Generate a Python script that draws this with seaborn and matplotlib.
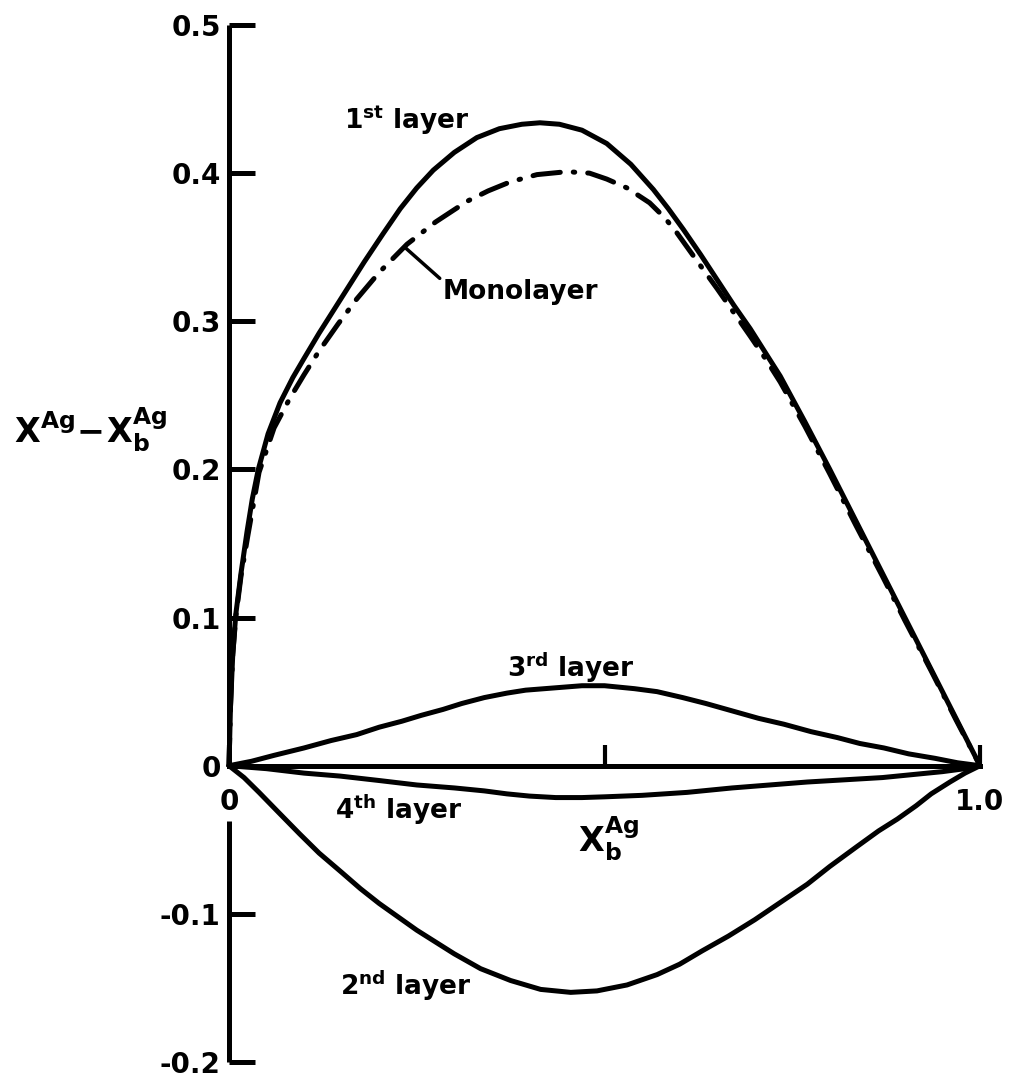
import matplotlib
matplotlib.use("Agg")
import matplotlib.pyplot as plt
import seaborn as sns

# curve readings: X_b^Ag (x) and X^Ag - X_b^Ag (y)
x_first = [0, 0.002, 0.005, 0.009, 0.016, 0.024, 0.031, 0.039, 0.052, 0.068, 0.085, 0.1,
           0.12, 0.14, 0.16, 0.18, 0.205, 0.228, 0.25, 0.272, 0.3, 0.33, 0.36, 0.39,
           0.414, 0.44, 0.47, 0.503, 0.535, 0.565, 0.585, 0.605, 0.628, 0.65, 0.672,
           0.694, 0.714, 0.734, 0.767, 0.8, 0.835, 0.87, 0.9, 0.935, 0.968, 1.0]
y_first = [0, 0.04, 0.075, 0.102, 0.13, 0.158, 0.18, 0.2, 0.224, 0.245, 0.262, 0.275,
           0.292, 0.308, 0.324, 0.34, 0.359, 0.376, 0.39, 0.402, 0.414, 0.424, 0.43, 0.433,
           0.434, 0.433, 0.429, 0.42, 0.406, 0.389, 0.376, 0.362, 0.345, 0.328, 0.311,
           0.295, 0.279, 0.263, 0.232, 0.2, 0.165, 0.13, 0.1, 0.065, 0.032, 0]

x_mono = [0, 0.002, 0.005, 0.009, 0.016, 0.025, 0.04, 0.06, 0.081, 0.1, 0.12, 0.145, 0.17,
          0.2, 0.237, 0.275, 0.317, 0.345, 0.374, 0.41, 0.45, 0.48, 0.503, 0.53, 0.56,
          0.58, 0.596, 0.62, 0.65, 0.672, 0.694, 0.714, 0.734, 0.767, 0.8, 0.835, 0.87,
          0.9, 0.935, 0.968, 1.0]
y_mono = [0, 0.04, 0.075, 0.1, 0.128, 0.155, 0.198, 0.228, 0.248, 0.264, 0.28, 0.298, 0.315,
          0.333, 0.352, 0.367, 0.381, 0.388, 0.394, 0.399, 0.401, 0.4, 0.396, 0.39, 0.38,
          0.37, 0.36, 0.343, 0.322, 0.306, 0.29, 0.275, 0.259, 0.229, 0.197, 0.162, 0.128,
          0.098, 0.064, 0.031, 0]

x_third = [0, 0.03, 0.06, 0.1, 0.136, 0.17, 0.2, 0.23, 0.256, 0.285, 0.31, 0.34, 0.37,
           0.395, 0.42, 0.445, 0.47, 0.5, 0.54, 0.57, 0.604, 0.635, 0.67, 0.705, 0.739,
           0.775, 0.81, 0.84, 0.872, 0.905, 0.94, 0.97, 1.0]
y_third = [0, 0.003, 0.007, 0.012, 0.017, 0.021, 0.026, 0.03, 0.034, 0.038, 0.042, 0.046,
           0.049, 0.051, 0.052, 0.053, 0.054, 0.054, 0.052, 0.05, 0.046, 0.042, 0.037,
           0.032, 0.028, 0.023, 0.019, 0.015, 0.012, 0.008, 0.005, 0.002, 0]

x_fourth = [0, 0.05, 0.1, 0.148, 0.2, 0.25, 0.3, 0.34, 0.37, 0.4, 0.435, 0.47, 0.5, 0.55,
            0.61, 0.67, 0.72, 0.77, 0.82, 0.87, 0.91, 0.95, 0.98, 1.0]
y_fourth = [0, -0.002, -0.005, -0.007, -0.01, -0.013, -0.015, -0.017, -0.019, -0.0205,
            -0.0215, -0.0215, -0.021, -0.02, -0.018, -0.015, -0.013, -0.011, -0.0095,
            -0.008, -0.006, -0.004, -0.002, 0]

x_second = [0, 0.02, 0.04, 0.065, 0.094, 0.12, 0.15, 0.175, 0.2, 0.225, 0.25, 0.275, 0.3,
            0.335, 0.375, 0.415, 0.455, 0.49, 0.53, 0.57, 0.6, 0.63, 0.665, 0.7, 0.735,
            0.77, 0.8, 0.835, 0.865, 0.89, 0.915, 0.935, 0.96, 0.98, 1.0]
y_second = [0, -0.008, -0.018, -0.031, -0.046, -0.059, -0.072, -0.083, -0.093, -0.102,
            -0.111, -0.119, -0.127, -0.137, -0.145, -0.151, -0.153, -0.152, -0.148,
            -0.141, -0.134, -0.125, -0.115, -0.104, -0.092, -0.08, -0.068, -0.055,
            -0.044, -0.036, -0.027, -0.019, -0.011, -0.005, 0]

y_ticks = [0.5, 0.4, 0.3, 0.2, 0.1, 0, -0.1, -0.2]
y_ticklabels = ["0.5", "0.4", "0.3", "0.2", "0.1", "0", "-0.1", "-0.2"]

sns.set_style("white")
plt.rcParams["font.family"] = ["DejaVu Sans"]
plt.rcParams["font.weight"] = "bold"
plt.rcParams["mathtext.default"] = "bf"
for key in ["text.color", "axes.labelcolor", "xtick.color", "ytick.color", "axes.edgecolor"]:
    plt.rcParams[key] = "black"

fig = plt.figure(figsize=(10.18, 10.83), dpi=100)
ax = fig.add_axes([229 / 1018, 21 / 1083, 751 / 1018, 1037 / 1083])

lw = 3.6
curves = [(x_first, y_first), (x_third, y_third), (x_fourth, y_fourth), (x_second, y_second)]
for xs, ys in curves:
    sns.lineplot(x=xs, y=ys, ax=ax, color="black", lw=lw, estimator=None, sort=False,
                 clip_on=False, solid_capstyle="round", solid_joinstyle="round")

sns.lineplot(x=x_mono, y=y_mono, ax=ax, color="black", lw=lw, estimator=None, sort=False,
             clip_on=False, ls=(0, (5.5, 2.6, 0.3, 2.6)), dash_capstyle="round")

ax.set_xlim(0, 1.0)
ax.set_ylim(-0.2, 0.5)

# axes: x axis through zero, y axis broken around the "0" label
for s in ["top", "right", "left"]:
    ax.spines[s].set_visible(False)
ax.spines["bottom"].set_position(("data", 0))
ax.spines["bottom"].set_bounds(0, 1.0)
ax.spines["bottom"].set_linewidth(lw)
ax.plot([0, 0], [0.5, 0], color="black", lw=lw, clip_on=False, solid_capstyle="butt")
ax.plot([0, 0], [-0.037, -0.2], color="black", lw=lw, clip_on=False, solid_capstyle="butt")

ax.set_yticks(y_ticks)
ax.set_yticklabels(y_ticklabels)
ax.tick_params(axis="y", left=True, direction="in", length=19, width=lw, labelsize=20, pad=6)
ax.set_xticks([0, 0.5, 1.0])
ax.set_xticklabels(["0", "", "1.0"])
ax.tick_params(axis="x", bottom=True, direction="in", length=15, width=3, labelsize=20, pad=16)

ax.set_ylabel(r"$X^{Ag}\!-\!X_b^{Ag}$", rotation=0, fontsize=24, ha="center", va="center")
ax.yaxis.set_label_coords(-0.185, 0.61)
ax.set_xlabel(r"$X_b^{Ag}$", fontsize=24, ha="center", va="center")
ax.xaxis.set_label_coords(0.505, 0.215)

ax.text(0.153, 0.43, r"$1^{st}$ layer", fontsize=19, ha="left", va="baseline")
ax.text(0.37, 0.06, r"$3^{rd}$ layer", fontsize=19, ha="left", va="baseline")
ax.text(0.141, -0.036, r"$4^{th}$ layer", fontsize=19, ha="left", va="baseline")
ax.text(0.148, -0.155, r"$2^{nd}$ layer", fontsize=19, ha="left", va="baseline")
ax.annotate("Monolayer", xy=(0.234, 0.35), xytext=(0.285, 0.32), fontsize=19,
            ha="left", va="center",
            arrowprops=dict(arrowstyle="-", lw=2.5, color="black", shrinkA=0, shrinkB=0,
                            relpos=(0, 0.9)))

fig.savefig("out.png", dpi=100, facecolor="white")
